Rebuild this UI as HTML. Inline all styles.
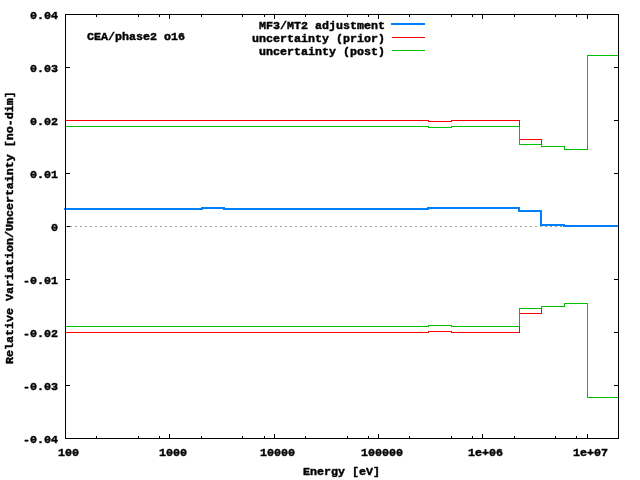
<!DOCTYPE html>
<html lang="en">
<head>
<meta charset="utf-8">
<title>CEA/phase2 o16 - MF3/MT2 adjustment</title>
<style>
html,body{margin:0;padding:0;background:#fff;width:640px;height:480px;overflow:hidden}
svg{display:block;position:absolute;left:0;top:0}
.g rect{shape-rendering:crispEdges}
text{font-family:"Liberation Mono","DejaVu Sans Mono",monospace;font-weight:bold;font-size:11.667px;fill:#000;stroke:#000;stroke-width:0.45px;stroke-linejoin:round;white-space:pre}
</style>
</head>
<body>
<svg width="640" height="480" viewBox="0 0 640 480">
<rect x="0" y="0" width="640" height="480" fill="#ffffff"/>
<g class="g" id="ticks">
<rect x="66" y="14" width="4" height="1" fill="#000"/>
<rect x="614" y="14" width="4" height="1" fill="#000"/>
<rect x="66" y="67" width="4" height="1" fill="#000"/>
<rect x="614" y="67" width="4" height="1" fill="#000"/>
<rect x="66" y="120" width="4" height="1" fill="#000"/>
<rect x="614" y="120" width="4" height="1" fill="#000"/>
<rect x="66" y="173" width="4" height="1" fill="#000"/>
<rect x="614" y="173" width="4" height="1" fill="#000"/>
<rect x="66" y="226" width="4" height="1" fill="#000"/>
<rect x="614" y="226" width="4" height="1" fill="#000"/>
<rect x="66" y="279" width="4" height="1" fill="#000"/>
<rect x="614" y="279" width="4" height="1" fill="#000"/>
<rect x="66" y="332" width="4" height="1" fill="#000"/>
<rect x="614" y="332" width="4" height="1" fill="#000"/>
<rect x="66" y="385" width="4" height="1" fill="#000"/>
<rect x="614" y="385" width="4" height="1" fill="#000"/>
<rect x="66" y="438" width="4" height="1" fill="#000"/>
<rect x="614" y="438" width="4" height="1" fill="#000"/>
<rect x="65" y="15" width="1" height="4" fill="#000"/>
<rect x="65" y="434" width="1" height="4" fill="#000"/>
<rect x="96" y="15" width="1" height="2" fill="#000"/>
<rect x="96" y="436" width="1" height="2" fill="#000"/>
<rect x="138" y="15" width="1" height="2" fill="#000"/>
<rect x="138" y="436" width="1" height="2" fill="#000"/>
<rect x="159" y="15" width="1" height="2" fill="#000"/>
<rect x="159" y="436" width="1" height="2" fill="#000"/>
<rect x="169" y="15" width="1" height="4" fill="#000"/>
<rect x="169" y="434" width="1" height="4" fill="#000"/>
<rect x="201" y="15" width="1" height="2" fill="#000"/>
<rect x="201" y="436" width="1" height="2" fill="#000"/>
<rect x="242" y="15" width="1" height="2" fill="#000"/>
<rect x="242" y="436" width="1" height="2" fill="#000"/>
<rect x="264" y="15" width="1" height="2" fill="#000"/>
<rect x="264" y="436" width="1" height="2" fill="#000"/>
<rect x="274" y="15" width="1" height="4" fill="#000"/>
<rect x="274" y="434" width="1" height="4" fill="#000"/>
<rect x="305" y="15" width="1" height="2" fill="#000"/>
<rect x="305" y="436" width="1" height="2" fill="#000"/>
<rect x="347" y="15" width="1" height="2" fill="#000"/>
<rect x="347" y="436" width="1" height="2" fill="#000"/>
<rect x="368" y="15" width="1" height="2" fill="#000"/>
<rect x="368" y="436" width="1" height="2" fill="#000"/>
<rect x="378" y="15" width="1" height="4" fill="#000"/>
<rect x="378" y="434" width="1" height="4" fill="#000"/>
<rect x="409" y="15" width="1" height="2" fill="#000"/>
<rect x="409" y="436" width="1" height="2" fill="#000"/>
<rect x="451" y="15" width="1" height="2" fill="#000"/>
<rect x="451" y="436" width="1" height="2" fill="#000"/>
<rect x="472" y="15" width="1" height="2" fill="#000"/>
<rect x="472" y="436" width="1" height="2" fill="#000"/>
<rect x="482" y="15" width="1" height="4" fill="#000"/>
<rect x="482" y="434" width="1" height="4" fill="#000"/>
<rect x="514" y="15" width="1" height="2" fill="#000"/>
<rect x="514" y="436" width="1" height="2" fill="#000"/>
<rect x="555" y="15" width="1" height="2" fill="#000"/>
<rect x="555" y="436" width="1" height="2" fill="#000"/>
<rect x="576" y="15" width="1" height="2" fill="#000"/>
<rect x="576" y="436" width="1" height="2" fill="#000"/>
<rect x="587" y="15" width="1" height="4" fill="#000"/>
<rect x="587" y="434" width="1" height="4" fill="#000"/>
</g>
<g class="g" id="zeroaxis">
<rect x="65" y="226" width="2" height="1" fill="#a0a0a0"/>
<rect x="70" y="226" width="2" height="1" fill="#a0a0a0"/>
<rect x="75" y="226" width="2" height="1" fill="#a0a0a0"/>
<rect x="80" y="226" width="2" height="1" fill="#a0a0a0"/>
<rect x="85" y="226" width="2" height="1" fill="#a0a0a0"/>
<rect x="90" y="226" width="2" height="1" fill="#a0a0a0"/>
<rect x="95" y="226" width="2" height="1" fill="#a0a0a0"/>
<rect x="100" y="226" width="2" height="1" fill="#a0a0a0"/>
<rect x="105" y="226" width="2" height="1" fill="#a0a0a0"/>
<rect x="110" y="226" width="2" height="1" fill="#a0a0a0"/>
<rect x="115" y="226" width="2" height="1" fill="#a0a0a0"/>
<rect x="120" y="226" width="2" height="1" fill="#a0a0a0"/>
<rect x="125" y="226" width="2" height="1" fill="#a0a0a0"/>
<rect x="130" y="226" width="2" height="1" fill="#a0a0a0"/>
<rect x="135" y="226" width="2" height="1" fill="#a0a0a0"/>
<rect x="140" y="226" width="2" height="1" fill="#a0a0a0"/>
<rect x="145" y="226" width="2" height="1" fill="#a0a0a0"/>
<rect x="150" y="226" width="2" height="1" fill="#a0a0a0"/>
<rect x="155" y="226" width="2" height="1" fill="#a0a0a0"/>
<rect x="160" y="226" width="2" height="1" fill="#a0a0a0"/>
<rect x="165" y="226" width="2" height="1" fill="#a0a0a0"/>
<rect x="170" y="226" width="2" height="1" fill="#a0a0a0"/>
<rect x="175" y="226" width="2" height="1" fill="#a0a0a0"/>
<rect x="180" y="226" width="2" height="1" fill="#a0a0a0"/>
<rect x="185" y="226" width="2" height="1" fill="#a0a0a0"/>
<rect x="190" y="226" width="2" height="1" fill="#a0a0a0"/>
<rect x="195" y="226" width="2" height="1" fill="#a0a0a0"/>
<rect x="200" y="226" width="2" height="1" fill="#a0a0a0"/>
<rect x="205" y="226" width="2" height="1" fill="#a0a0a0"/>
<rect x="210" y="226" width="2" height="1" fill="#a0a0a0"/>
<rect x="215" y="226" width="2" height="1" fill="#a0a0a0"/>
<rect x="220" y="226" width="2" height="1" fill="#a0a0a0"/>
<rect x="225" y="226" width="2" height="1" fill="#a0a0a0"/>
<rect x="230" y="226" width="2" height="1" fill="#a0a0a0"/>
<rect x="235" y="226" width="2" height="1" fill="#a0a0a0"/>
<rect x="240" y="226" width="2" height="1" fill="#a0a0a0"/>
<rect x="245" y="226" width="2" height="1" fill="#a0a0a0"/>
<rect x="250" y="226" width="2" height="1" fill="#a0a0a0"/>
<rect x="255" y="226" width="2" height="1" fill="#a0a0a0"/>
<rect x="260" y="226" width="2" height="1" fill="#a0a0a0"/>
<rect x="265" y="226" width="2" height="1" fill="#a0a0a0"/>
<rect x="270" y="226" width="2" height="1" fill="#a0a0a0"/>
<rect x="275" y="226" width="2" height="1" fill="#a0a0a0"/>
<rect x="280" y="226" width="2" height="1" fill="#a0a0a0"/>
<rect x="285" y="226" width="2" height="1" fill="#a0a0a0"/>
<rect x="290" y="226" width="2" height="1" fill="#a0a0a0"/>
<rect x="295" y="226" width="2" height="1" fill="#a0a0a0"/>
<rect x="300" y="226" width="2" height="1" fill="#a0a0a0"/>
<rect x="305" y="226" width="2" height="1" fill="#a0a0a0"/>
<rect x="310" y="226" width="2" height="1" fill="#a0a0a0"/>
<rect x="315" y="226" width="2" height="1" fill="#a0a0a0"/>
<rect x="320" y="226" width="2" height="1" fill="#a0a0a0"/>
<rect x="325" y="226" width="2" height="1" fill="#a0a0a0"/>
<rect x="330" y="226" width="2" height="1" fill="#a0a0a0"/>
<rect x="335" y="226" width="2" height="1" fill="#a0a0a0"/>
<rect x="340" y="226" width="2" height="1" fill="#a0a0a0"/>
<rect x="345" y="226" width="2" height="1" fill="#a0a0a0"/>
<rect x="350" y="226" width="2" height="1" fill="#a0a0a0"/>
<rect x="355" y="226" width="2" height="1" fill="#a0a0a0"/>
<rect x="360" y="226" width="2" height="1" fill="#a0a0a0"/>
<rect x="365" y="226" width="2" height="1" fill="#a0a0a0"/>
<rect x="370" y="226" width="2" height="1" fill="#a0a0a0"/>
<rect x="375" y="226" width="2" height="1" fill="#a0a0a0"/>
<rect x="380" y="226" width="2" height="1" fill="#a0a0a0"/>
<rect x="385" y="226" width="2" height="1" fill="#a0a0a0"/>
<rect x="390" y="226" width="2" height="1" fill="#a0a0a0"/>
<rect x="395" y="226" width="2" height="1" fill="#a0a0a0"/>
<rect x="400" y="226" width="2" height="1" fill="#a0a0a0"/>
<rect x="405" y="226" width="2" height="1" fill="#a0a0a0"/>
<rect x="410" y="226" width="2" height="1" fill="#a0a0a0"/>
<rect x="415" y="226" width="2" height="1" fill="#a0a0a0"/>
<rect x="420" y="226" width="2" height="1" fill="#a0a0a0"/>
<rect x="425" y="226" width="2" height="1" fill="#a0a0a0"/>
<rect x="430" y="226" width="2" height="1" fill="#a0a0a0"/>
<rect x="435" y="226" width="2" height="1" fill="#a0a0a0"/>
<rect x="440" y="226" width="2" height="1" fill="#a0a0a0"/>
<rect x="445" y="226" width="2" height="1" fill="#a0a0a0"/>
<rect x="450" y="226" width="2" height="1" fill="#a0a0a0"/>
<rect x="455" y="226" width="2" height="1" fill="#a0a0a0"/>
<rect x="460" y="226" width="2" height="1" fill="#a0a0a0"/>
<rect x="465" y="226" width="2" height="1" fill="#a0a0a0"/>
<rect x="470" y="226" width="2" height="1" fill="#a0a0a0"/>
<rect x="475" y="226" width="2" height="1" fill="#a0a0a0"/>
<rect x="480" y="226" width="2" height="1" fill="#a0a0a0"/>
<rect x="485" y="226" width="2" height="1" fill="#a0a0a0"/>
<rect x="490" y="226" width="2" height="1" fill="#a0a0a0"/>
<rect x="495" y="226" width="2" height="1" fill="#a0a0a0"/>
<rect x="500" y="226" width="2" height="1" fill="#a0a0a0"/>
<rect x="505" y="226" width="2" height="1" fill="#a0a0a0"/>
<rect x="510" y="226" width="2" height="1" fill="#a0a0a0"/>
<rect x="515" y="226" width="2" height="1" fill="#a0a0a0"/>
<rect x="520" y="226" width="2" height="1" fill="#a0a0a0"/>
<rect x="525" y="226" width="2" height="1" fill="#a0a0a0"/>
<rect x="530" y="226" width="2" height="1" fill="#a0a0a0"/>
<rect x="535" y="226" width="2" height="1" fill="#a0a0a0"/>
<rect x="540" y="226" width="2" height="1" fill="#a0a0a0"/>
<rect x="545" y="226" width="2" height="1" fill="#a0a0a0"/>
<rect x="550" y="226" width="2" height="1" fill="#a0a0a0"/>
<rect x="555" y="226" width="2" height="1" fill="#a0a0a0"/>
<rect x="560" y="226" width="2" height="1" fill="#a0a0a0"/>
<rect x="565" y="226" width="2" height="1" fill="#a0a0a0"/>
<rect x="570" y="226" width="2" height="1" fill="#a0a0a0"/>
<rect x="575" y="226" width="2" height="1" fill="#a0a0a0"/>
<rect x="580" y="226" width="2" height="1" fill="#a0a0a0"/>
<rect x="585" y="226" width="2" height="1" fill="#a0a0a0"/>
<rect x="590" y="226" width="2" height="1" fill="#a0a0a0"/>
<rect x="595" y="226" width="2" height="1" fill="#a0a0a0"/>
<rect x="600" y="226" width="2" height="1" fill="#a0a0a0"/>
<rect x="605" y="226" width="2" height="1" fill="#a0a0a0"/>
<rect x="610" y="226" width="2" height="1" fill="#a0a0a0"/>
<rect x="615" y="226" width="2" height="1" fill="#a0a0a0"/>
</g>
<g class="g" id="adjustment">
<rect x="64" y="208" width="139" height="2" fill="#0080ff"/>
<rect x="201" y="207" width="2" height="3" fill="#0080ff"/>
<rect x="201" y="207" width="24" height="2" fill="#0080ff"/>
<rect x="223" y="207" width="2" height="3" fill="#0080ff"/>
<rect x="223" y="208" width="206" height="2" fill="#0080ff"/>
<rect x="427" y="207" width="2" height="3" fill="#0080ff"/>
<rect x="427" y="207" width="93" height="2" fill="#0080ff"/>
<rect x="518" y="207" width="2" height="5" fill="#0080ff"/>
<rect x="518" y="210" width="24" height="2" fill="#0080ff"/>
<rect x="540" y="210" width="2" height="16" fill="#0080ff"/>
<rect x="540" y="224" width="25" height="2" fill="#0080ff"/>
<rect x="563" y="224" width="2" height="3" fill="#0080ff"/>
<rect x="563" y="225" width="55" height="2" fill="#0080ff"/>
</g>
<g class="g" id="prior">
<rect x="65" y="120" width="364" height="1" fill="#ff0000"/>
<rect x="428" y="120" width="1" height="2" fill="#ff0000"/>
<rect x="428" y="121" width="24" height="1" fill="#ff0000"/>
<rect x="451" y="120" width="1" height="2" fill="#ff0000"/>
<rect x="451" y="120" width="69" height="1" fill="#ff0000"/>
<rect x="519" y="120" width="1" height="20" fill="#ff0000"/>
<rect x="519" y="139" width="23" height="1" fill="#ff0000"/>
<rect x="541" y="139" width="1" height="8" fill="#ff0000"/>
<rect x="541" y="146" width="24" height="1" fill="#ff0000"/>
<rect x="564" y="146" width="1" height="4" fill="#ff0000"/>
<rect x="564" y="149" width="24" height="1" fill="#ff0000"/>
<rect x="587" y="55" width="1" height="95" fill="#ff0000"/>
<rect x="587" y="55" width="31" height="1" fill="#ff0000"/>
<rect x="65" y="332" width="364" height="1" fill="#ff0000"/>
<rect x="428" y="331" width="1" height="2" fill="#ff0000"/>
<rect x="428" y="331" width="24" height="1" fill="#ff0000"/>
<rect x="451" y="331" width="1" height="2" fill="#ff0000"/>
<rect x="451" y="332" width="69" height="1" fill="#ff0000"/>
<rect x="519" y="313" width="1" height="20" fill="#ff0000"/>
<rect x="519" y="313" width="23" height="1" fill="#ff0000"/>
<rect x="541" y="306" width="1" height="8" fill="#ff0000"/>
<rect x="541" y="306" width="24" height="1" fill="#ff0000"/>
<rect x="564" y="303" width="1" height="4" fill="#ff0000"/>
<rect x="564" y="303" width="24" height="1" fill="#ff0000"/>
<rect x="587" y="303" width="1" height="95" fill="#ff0000"/>
<rect x="587" y="397" width="31" height="1" fill="#ff0000"/>
</g>
<g class="g" id="post">
<rect x="65" y="126" width="364" height="1" fill="#00c000"/>
<rect x="428" y="126" width="1" height="2" fill="#00c000"/>
<rect x="428" y="127" width="24" height="1" fill="#00c000"/>
<rect x="451" y="126" width="1" height="2" fill="#00c000"/>
<rect x="451" y="126" width="69" height="1" fill="#00c000"/>
<rect x="519" y="126" width="1" height="19" fill="#00c000"/>
<rect x="519" y="144" width="23" height="1" fill="#00c000"/>
<rect x="541" y="144" width="1" height="3" fill="#00c000"/>
<rect x="541" y="146" width="24" height="1" fill="#00c000"/>
<rect x="564" y="146" width="1" height="4" fill="#00c000"/>
<rect x="564" y="149" width="24" height="1" fill="#00c000"/>
<rect x="587" y="55" width="1" height="95" fill="#00c000"/>
<rect x="587" y="55" width="31" height="1" fill="#00c000"/>
<rect x="65" y="326" width="364" height="1" fill="#00c000"/>
<rect x="428" y="325" width="1" height="2" fill="#00c000"/>
<rect x="428" y="325" width="24" height="1" fill="#00c000"/>
<rect x="451" y="325" width="1" height="2" fill="#00c000"/>
<rect x="451" y="326" width="69" height="1" fill="#00c000"/>
<rect x="519" y="308" width="1" height="19" fill="#00c000"/>
<rect x="519" y="308" width="23" height="1" fill="#00c000"/>
<rect x="541" y="306" width="1" height="3" fill="#00c000"/>
<rect x="541" y="306" width="24" height="1" fill="#00c000"/>
<rect x="564" y="303" width="1" height="4" fill="#00c000"/>
<rect x="564" y="303" width="24" height="1" fill="#00c000"/>
<rect x="587" y="303" width="1" height="95" fill="#00c000"/>
<rect x="587" y="397" width="31" height="1" fill="#00c000"/>
</g>
<g class="g" id="key">
<rect x="391" y="23" width="34" height="2" fill="#0080ff"/>
<rect x="392" y="37" width="33" height="1" fill="#ff0000"/>
<rect x="392" y="50" width="33" height="1" fill="#00c000"/>
</g>
<g class="g" id="border">
<rect x="65" y="14" width="554" height="1" fill="#000"/>
<rect x="65" y="438" width="554" height="1" fill="#000"/>
<rect x="65" y="14" width="1" height="425" fill="#000"/>
<rect x="618" y="14" width="1" height="425" fill="#000"/>
</g>
<g id="labels" opacity="0.999">
<text transform="translate(58,18.8) scale(1,1.0)" text-anchor="end">0.04</text>
<text transform="translate(58,71.8) scale(1,1.0)" text-anchor="end">0.03</text>
<text transform="translate(58,124.8) scale(1,1.0)" text-anchor="end">0.02</text>
<text transform="translate(58,177.8) scale(1,1.0)" text-anchor="end">0.01</text>
<text transform="translate(58,230.8) scale(1,1.0)" text-anchor="end">0</text>
<text transform="translate(58,283.8) scale(1,1.0)" text-anchor="end">-0.01</text>
<text transform="translate(58,336.8) scale(1,1.0)" text-anchor="end">-0.02</text>
<text transform="translate(58,389.8) scale(1,1.0)" text-anchor="end">-0.03</text>
<text transform="translate(58,442.8) scale(1,1.0)" text-anchor="end">-0.04</text>
<text transform="translate(58,455.8) scale(1,1.0)" text-anchor="start">100</text>
<text transform="translate(159,455.8) scale(1,1.0)" text-anchor="start">1000</text>
<text transform="translate(260,455.8) scale(1,1.0)" text-anchor="start">10000</text>
<text transform="translate(361,455.8) scale(1,1.0)" text-anchor="start">100000</text>
<text transform="translate(468,455.8) scale(1,1.0)" text-anchor="start">1e+06</text>
<text transform="translate(573,455.8) scale(1,1.0)" text-anchor="start">1e+07</text>
<text transform="translate(87,39.8) scale(1,1.0)" text-anchor="start">CEA/phase2 o16</text>
<text transform="translate(385,28.8) scale(1,1.0)" text-anchor="end">MF3/MT2 adjustment</text>
<text transform="translate(385,41.8) scale(1,1.0)" text-anchor="end">uncertainty (prior)</text>
<text transform="translate(385,54.8) scale(1,1.0)" text-anchor="end">uncertainty (post)</text>
<text transform="translate(303,474.8) scale(1,1.0)" text-anchor="start">Energy [eV]</text>
<text transform="translate(12.8,364) rotate(-90) scale(1,1.0)">Relative Variation/Uncertainty [no-dim]</text>
</g>
</svg>
</body>
</html>
